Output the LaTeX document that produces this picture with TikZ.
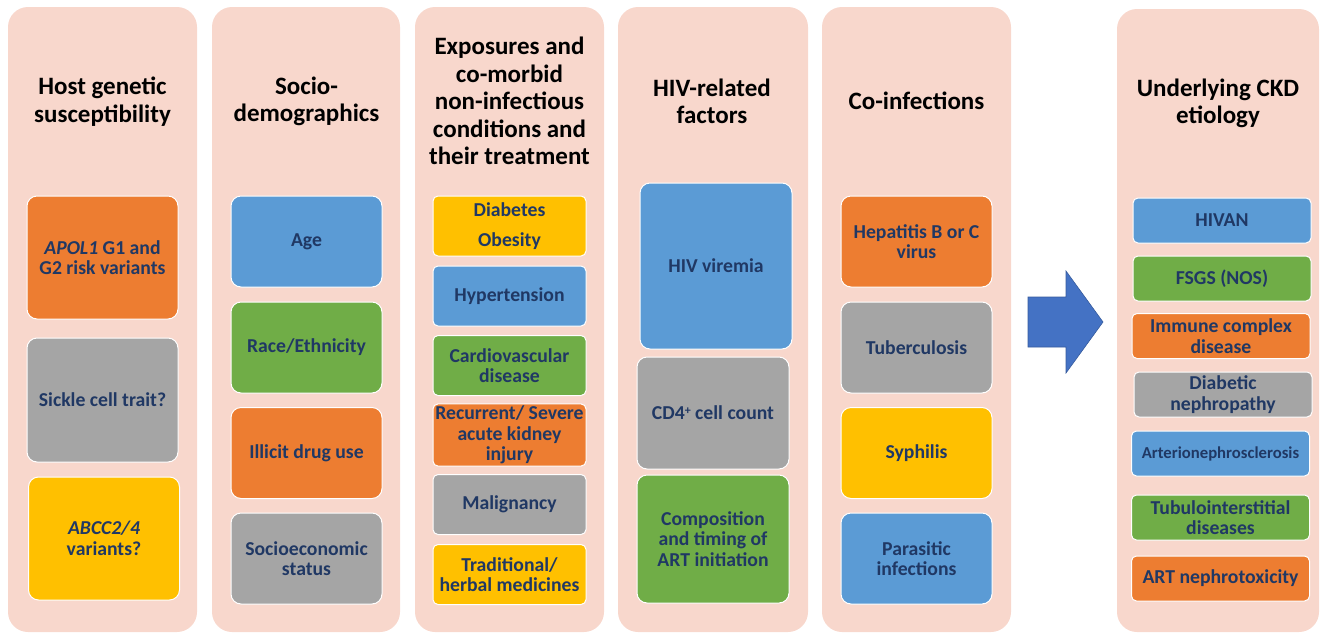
\documentclass[tikz,border=0pt]{standalone}
\usepackage{fontspec}
\setmainfont{Carlito}
\definecolor{panelpink}{HTML}{F8D7CC}
\definecolor{navytext}{HTML}{203864}
\definecolor{boxorange}{HTML}{ED7D31}
\definecolor{boxblue}{HTML}{5B9BD5}
\definecolor{boxgreen}{HTML}{70AD47}
\definecolor{boxgray}{HTML}{A5A5A5}
\definecolor{boxgold}{HTML}{FFC000}
\definecolor{arrowblue}{HTML}{4472C4}
\tikzset{
  panel/.style = {fill = panelpink, rounded corners = 20pt},
  heading/.style = {font = \fontsize{25}{27.5}\selectfont\bfseries, align = center, text = black},
  factor/.style = {draw = white, line width = 1pt, rounded corners = 10pt, align = center,
    font = \fontsize{19.7}{20.5}\selectfont\bfseries, text = navytext, inner sep = 2pt},
  bigbox/.style = {factor, minimum width = 151pt, minimum height = 91pt},
  slimbox/.style = {factor, rounded corners = 5pt, minimum width = 153pt, minimum height = 60pt},
  causebox/.style = {factor, rounded corners = 5pt, minimum width = 178pt, minimum height = 45pt},
}
\begin{document}
\begin{tikzpicture}[x = 1pt, y = -1pt]
    \useasboundingbox (0, 0) rectangle (1320, 635);
    % backgrounds of the six columns
    \fill[panel] (8, 7)    rectangle (197, 632);
    \fill[panel] (212, 7)  rectangle (400, 632);
    \fill[panel] (415, 7)  rectangle (604, 632);
    \fill[panel] (618, 7)  rectangle (808, 632);
    \fill[panel] (822, 7)  rectangle (1011, 632);
    \fill[panel] (1117, 9) rectangle (1319, 632);

    % host genetic susceptibility
    \node[heading] (hostT) at (102.5, 101.5) {Host genetic\\susceptibility};
    \node[bigbox, fill = boxorange, minimum height = 123pt] (apol) at (102.5, 257.5) {\textit{APOL1} G1 and\\G2 risk variants};
    \node[bigbox, fill = boxgray, minimum height = 124pt] (sickle) at (102.5, 400) {Sickle cell trait?};
    \node[bigbox, fill = boxgold, minimum height = 123pt] (abcc) at (104, 538.5) {\textit{ABCC2/4}\\variants?};

    % socio-demographics
    \node[heading] (socioT) at (306.5, 101.5) {Socio-\\demographics};
    \node[bigbox, fill = boxblue]   (age)     at (306.5, 241.5) {Age};
    \node[bigbox, fill = boxgreen]  (race)    at (306.5, 347.5) {Race/Ethnicity};
    \node[bigbox, fill = boxorange] (drug)    at (306.5, 453)   {Illicit drug use};
    \node[bigbox, fill = boxgray]   (income)  at (306.5, 558.5) {Socioeconomic\\status};

    % exposures and co-morbid conditions
    \node[heading] (exposT) at (509.5, 101) {Exposures and\\co-morbid\\non-infectious\\conditions and\\their treatment};
    \node[slimbox, fill = boxgold]   (diab)   at (509.5, 226)   {Diabetes\\[9pt]Obesity};
    \node[slimbox, fill = boxblue]   (htn)    at (509.5, 296)   {Hypertension};
    \node[slimbox, fill = boxgreen]  (cvd)    at (509.5, 365.5) {Cardiovascular\\disease};
    \node[slimbox, fill = boxorange] (aki)    at (509.5, 435)   {Recurrent/ Severe\\acute kidney\\injury};
    \node[slimbox, fill = boxgray]   (malig)  at (509.5, 504.5) {Malignancy};
    \node[slimbox, fill = boxgold]   (herbal) at (509.5, 574.5) {Traditional/\\herbal medicines};

    % HIV-related factors
    \node[heading] (hivT) at (712, 101.5) {HIV-related\\factors};
    \node[bigbox, fill = boxblue, minimum width = 152pt, minimum height = 166pt] (viremia) at (716, 266) {HIV viremia};
    \node[bigbox, fill = boxgray, minimum width = 152pt, minimum height = 112pt] (cdfour) at (713, 413) {CD4\raisebox{0.55ex}{\fontsize{12}{12}\selectfont +} cell count};
    \node[bigbox, fill = boxgreen, minimum width = 152pt, minimum height = 128pt] (artinit) at (713, 539) {Composition\\and timing of\\ART initiation};

    % co-infections
    \node[heading] (coinfT) at (916.5, 100.5) {Co-infections};
    \node[bigbox, fill = boxorange] (hep)   at (916.5, 241.5) {Hepatitis B or C\\virus};
    \node[bigbox, fill = boxgray]   (tb)    at (916.5, 347.5) {Tuberculosis};
    \node[bigbox, fill = boxgold]   (syph)  at (916.5, 453)   {Syphilis};
    \node[bigbox, fill = boxblue]   (para)  at (916.5, 558.5) {Parasitic\\infections};

    % arrow to the outcome column
    \draw[fill = arrowblue, draw = arrowblue!80!black, line width = 0.6pt]
      (1028, 297) -- (1066, 297) -- (1066, 271) -- (1103, 322)
      -- (1066, 373) -- (1066, 347) -- (1028, 347) -- cycle;

    % underlying CKD etiology
    \node[heading] (ckdT) at (1218, 103.5) {Underlying CKD\\etiology};
    \node[causebox, fill = boxblue]   (hivan)    at (1222, 220.5) {HIVAN};
    \node[causebox, fill = boxgreen]  (fsgs)     at (1222, 278.5) {FSGS (NOS)};
    \node[causebox, fill = boxorange] (immune)   at (1221, 336)   {Immune complex\\disease};
    \node[causebox, fill = boxgray]   (dmneph)   at (1223, 394.5) {Diabetic\\nephropathy};
    \node[causebox, fill = boxblue, font = \fontsize{16.7}{20}\selectfont\bfseries] (arterio) at (1220.5, 453.5) {Arterionephrosclerosis};
    \node[causebox, fill = boxgreen]  (tubulo)   at (1220.5, 517.5) {Tubulointerstitial\\diseases};
    \node[causebox, fill = boxorange] (nephtox)  at (1220.5, 578.5) {ART nephrotoxicity};
  \end{tikzpicture}
\end{document}
